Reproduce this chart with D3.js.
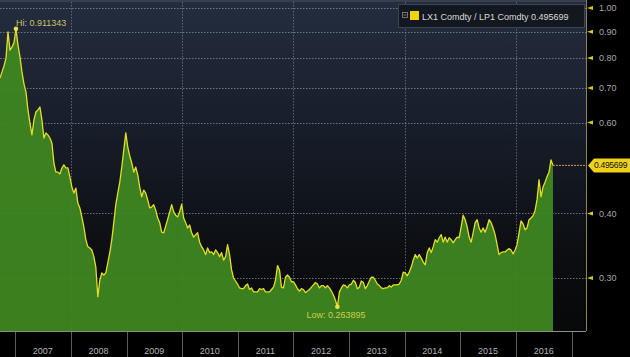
<!DOCTYPE html>
<html><head><meta charset="utf-8">
<script src="https://cdn.jsdelivr.net/npm/d3@7"></script>
<style>body{margin:0;background:#000}svg{display:block}</style>
</head><body>
<svg id="c" width="630" height="357"></svg>
<script>
// ---- data ----
const seriesName = "LX1 Comdty / LP1 Comdty";
const startDate = "2006-09-23";
const endDate = "2016-08-31";
const ratio = [
0.732,0.752,0.772,0.800,0.899,0.829,0.840,0.856,0.9113,0.848,
0.804,0.752,0.713,0.688,0.635,0.599,0.568,0.607,0.629,0.635,
0.643,0.607,0.560,0.573,0.568,0.560,0.548,0.501,0.481,0.481,
0.477,0.490,0.497,0.490,0.490,0.471,0.450,0.438,0.448,0.419,
0.410,0.394,0.377,0.356,0.345,0.343,0.340,0.330,0.315,0.276,
0.297,0.307,0.304,0.307,0.321,0.336,0.356,0.384,0.416,0.438,
0.460,0.492,0.531,0.573,0.538,0.517,0.501,0.481,0.492,0.475,
0.450,0.431,0.444,0.438,0.425,0.410,0.412,0.416,0.406,0.392,
0.384,0.368,0.367,0.378,0.390,0.403,0.416,0.403,0.397,0.394,
0.403,0.417,0.392,0.384,0.375,0.380,0.367,0.360,0.364,0.367,
0.352,0.345,0.340,0.333,0.343,0.336,0.337,0.333,0.340,0.336,
0.330,0.336,0.325,0.330,0.348,0.333,0.311,0.300,0.296,0.292,
0.287,0.286,0.286,0.290,0.292,0.285,0.287,0.282,0.282,0.282,
0.286,0.285,0.286,0.282,0.282,0.282,0.285,0.288,0.297,0.317,
0.311,0.288,0.287,0.301,0.304,0.301,0.295,0.295,0.291,0.286,
0.283,0.286,0.285,0.281,0.283,0.285,0.288,0.291,0.294,0.292,
0.287,0.290,0.290,0.287,0.290,0.287,0.283,0.278,0.272,0.263895,
0.282,0.287,0.291,0.290,0.287,0.291,0.292,0.297,0.294,0.286,
0.288,0.296,0.294,0.286,0.290,0.296,0.301,0.301,0.297,0.292,
0.290,0.287,0.286,0.287,0.287,0.290,0.288,0.291,0.291,0.291,
0.292,0.297,0.308,0.307,0.303,0.308,0.315,0.325,0.333,0.328,
0.333,0.328,0.322,0.318,0.336,0.343,0.336,0.345,0.356,0.352,
0.359,0.364,0.352,0.360,0.352,0.359,0.356,0.351,0.356,0.360,
0.359,0.377,0.397,0.389,0.377,0.360,0.352,0.367,0.384,0.389,
0.375,0.368,0.375,0.368,0.377,0.389,0.384,0.375,0.364,0.348,
0.333,0.336,0.337,0.337,0.340,0.342,0.340,0.334,0.340,0.348,
0.367,0.387,0.382,0.372,0.375,0.389,0.392,0.396,0.405,0.425,
0.465,0.431,0.450,0.460,0.471,0.481,0.508,0.495699
];
const yTicks = [0.30, 0.40, 0.60, 0.70, 0.80, 0.90, 1.00];
const yearLabels = [2007, 2008, 2009, 2010, 2011, 2012, 2013, 2014, 2015, 2016];
const gridYears = [2008, 2010, 2012, 2014, 2016];
const hiValue = 0.911343, lowValue = 0.263895, lastValue = 0.495699;

// ---- layout ----
const W = 630, H = 357, plotR = 586, plotB = 331, dataR = 553;
const FONT = "'Liberation Sans', Arial, sans-serif";
const svg = d3.select("#c");
const parse = d3.timeParse("%Y-%m-%d");
const t0 = parse(startDate), t1 = parse(endDate);
const n = ratio.length;
const data = ratio.map((v, i) => ({ date: new Date(+t0 + (t1 - t0) * i / (n - 1)), v }));

const x = d3.scaleTime().domain([t0, t1]).range([0, dataR]);
const y = d3.scaleLog().domain([0.3, 1.0]).range([278, 8]);

// background
const defs = svg.append("defs");
const g = defs.append("linearGradient").attr("id", "bg").attr("x1", 0).attr("y1", 0).attr("x2", 0).attr("y2", 1);
g.append("stop").attr("offset", "0%").attr("stop-color", "#242d3f");
g.append("stop").attr("offset", "40%").attr("stop-color", "#171d29");
g.append("stop").attr("offset", "75%").attr("stop-color", "#0c0e12");
g.append("stop").attr("offset", "100%").attr("stop-color", "#070809");
svg.append("rect").attr("width", W).attr("height", H).attr("fill", "#000");
svg.append("rect").attr("x", 0).attr("y", 0).attr("width", plotR).attr("height", plotB).attr("fill", "url(#bg)");
svg.append("rect").attr("x", 0).attr("y", 0).attr("width", plotR).attr("height", 2).attr("fill", "#3a3f4b");

// grid
const grid = svg.append("g").attr("stroke", "#8a909c").attr("stroke-dasharray", "1.5,1.5").attr("stroke-width", 1);
grid.selectAll("line.h").data(yTicks).join("line").attr("class", "h")
  .attr("x1", 0).attr("x2", plotR).attr("y1", d => Math.round(y(d)) + 0.5).attr("y2", d => Math.round(y(d)) + 0.5)
  .attr("opacity", 0.75);
grid.selectAll("line.v").data(gridYears).join("line").attr("class", "v")
  .attr("x1", d => Math.round(x(new Date(d, 0, 1))) + 0.5).attr("x2", d => Math.round(x(new Date(d, 0, 1))) + 0.5)
  .attr("y1", 2).attr("y2", plotB).attr("opacity", 0.6);

// area + line
const area = d3.area().x(d => x(d.date)).y0(plotB).y1(d => y(d.v));
svg.append("path").datum(data).attr("d", area).attr("fill", "#3f8721").attr("fill-opacity", 0.94);
const line = d3.line().x(d => x(d.date)).y(d => y(d.v));
svg.append("path").datum(data).attr("d", line).attr("fill", "none").attr("stroke", "#e6de26").attr("stroke-width", 1.3).attr("stroke-linejoin", "round");

// last-value dotted line
svg.append("line").attr("x1", dataR).attr("x2", plotR).attr("y1", y(lastValue)).attr("y2", y(lastValue))
  .attr("stroke", "#c99a5c").attr("stroke-dasharray", "2,1").attr("stroke-width", 1);

// hi / low markers
const hiPt = data.find(d => d.v === d3.max(ratio));
const loPt = data.find(d => d.v === d3.min(ratio));
svg.append("circle").attr("cx", x(hiPt.date)).attr("cy", y(hiPt.v)).attr("r", 2.3).attr("fill", "#f0e040");
svg.append("circle").attr("cx", x(loPt.date)).attr("cy", y(loPt.v)).attr("r", 2.3).attr("fill", "#f0e040");
svg.append("text").attr("x", x(hiPt.date)).attr("y", y(hiPt.v) - 3).attr("font-family", FONT).attr("font-size", 9)
  .attr("fill", "#c9c46a").text("Hi: " + hiValue);
svg.append("text").attr("x", x(loPt.date) - 31).attr("y", y(loPt.v) + 11).attr("font-family", FONT).attr("font-size", 9)
  .attr("fill", "#d2cc4a").text("Low: " + lowValue);

// bottom axis band
svg.append("rect").attr("x", 0).attr("y", plotB).attr("width", W).attr("height", H - plotB).attr("fill", "#000");
svg.append("line").attr("x1", 0).attr("x2", plotR).attr("y1", plotB + 0.5).attr("y2", plotB + 0.5).attr("stroke", "#8c8c8c");
const sepYears = d3.range(yearLabels[0], yearLabels[yearLabels.length - 1] + 2);
svg.selectAll("line.sep").data(sepYears).join("line").attr("class", "sep")
  .attr("x1", d => Math.round(x(new Date(d, 0, 1))) + 0.5).attr("x2", d => Math.round(x(new Date(d, 0, 1))) + 0.5)
  .attr("y1", plotB + 1).attr("y2", H).attr("stroke", "#5a5a5a");
svg.selectAll("text.yr").data(yearLabels).join("text").attr("class", "yr")
  .attr("x", d => x(new Date(d, 6, 1))).attr("y", 354).attr("text-anchor", "middle")
  .attr("font-family", FONT).attr("font-size", 9).attr("fill", "#b4b4b4").text(d => d);

// right axis
svg.append("line").attr("x1", plotR + 0.5).attr("x2", plotR + 0.5).attr("y1", 0).attr("y2", plotB)
  .attr("stroke", "#8a8648").attr("stroke-width", 1);
const ax = svg.append("g");
ax.selectAll("path").data(yTicks).join("path")
  .attr("d", d => `M${plotR + 1},${y(d)} L${plotR + 7},${y(d) - 2} L${plotR + 7},${y(d) + 2} Z`)
  .attr("fill", "#d8c820");
ax.selectAll("text").data(yTicks).join("text")
  .attr("x", 599).attr("y", d => y(d)).attr("dy", "0.35em")
  .attr("font-family", FONT).attr("font-size", 9).attr("fill", "#a8a8a8").text(d => d.toFixed(2));

// value tag
const yl = y(lastValue);
svg.append("path").attr("d", `M${plotR + 2},${yl} L${plotR + 8},${yl - 7} L${W},${yl - 7} L${W},${yl + 7} L${plotR + 8},${yl + 7} Z`)
  .attr("fill", "#f0d21c");
svg.append("text").attr("x", plotR + 8).attr("y", yl).attr("dy", "0.35em").attr("font-family", FONT).attr("font-size", 8.5)
  .attr("letter-spacing", -0.3).attr("fill", "#111").text(lastValue);

// legend
const lg = svg.append("g");
lg.append("rect").attr("x", 398.5).attr("y", 4.5).attr("width", 186).attr("height", 23).attr("fill", "#131820").attr("stroke", "#3c4352");
lg.append("rect").attr("x", 402.5).attr("y", 12.5).attr("width", 5).attr("height", 5).attr("fill", "none").attr("stroke", "#8a8a8a").attr("stroke-width", 0.8);
lg.append("line").attr("x1", 403.5).attr("x2", 406.5).attr("y1", 15).attr("y2", 15).attr("stroke", "#8a8a8a").attr("stroke-width", 0.8);
lg.append("rect").attr("x", 410).attr("y", 11).attr("width", 9).attr("height", 9).attr("fill", "#f0d400");
lg.append("text").attr("x", 422).attr("y", 19.5).attr("font-family", FONT).attr("font-size", 9).attr("fill", "#dadada")
  .text(seriesName + " " + lastValue);
</script>
</body></html>
